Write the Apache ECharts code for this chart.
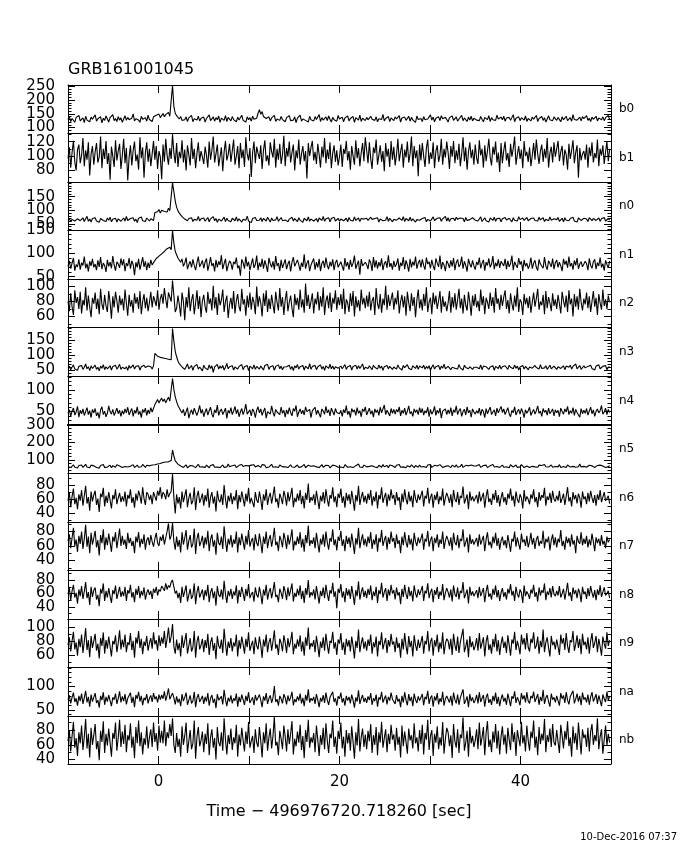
<!DOCTYPE html>
<html><head><meta charset="utf-8">
<script src="https://cdn.jsdelivr.net/npm/echarts@6/dist/echarts.min.js"></script>
<style>html,body{margin:0;padding:0;background:#fff}#c{width:680px;height:850px}</style>
</head><body><div id="c"></div>
<script>
const chartTitle = 'GRB161001045';
const xAxisTitle = 'Time \u2212 496976720.718260 [sec]';
const stamp = '10-Dec-2016 07:37';
const tStart = -10, binWidth = 0.15;
const xLabelValues = [0, 20, 40];
const detectors = ['b0','b1','n0','n1','n2','n3','n4','n5','n6','n7','n8','n9','na','nb'];
const yMin = [80, 64, 28, 45, 46, 30, 19, 25, 28, 27, 22, 43, 37, 34];
const yMax = [255, 132, 204, 150, 110, 193, 132, 300, 97, 93, 95, 111, 142, 99];
const yMajor = [[100,150,200,250],[80,100,120],[50,100,150],[50,100,150],[60,80,100],[50,100,150],[50,100],[100,200,300],[40,60,80],[40,60,80],[40,60,80],[60,80,100],[50,100],[40,60,80]];
const yMinorStep = [10, 10, 10, 10, 10, 10, 10, 20, 10, 10, 10, 10, 10, 10];

const b0 = [128,140,122,133,126,119,137,131,144,124,129,135,118,141,127,133,121,138,130,125,
146,123,132,128,139,117,134,126,142,131,120,136,129,147,125,133,122,140,127,135,
119,131,143,126,137,128,121,134,150,124,132,138,127,119,141,130,125,136,123,145,
129,134,122,139,138,145,140,149,136,143,151,139,147,142,155,141,148,254,176,152,
143,137,131,140,126,133,128,139,122,135,130,144,121,132,137,127,141,124,134,129,
138,120,133,127,146,125,131,139,123,136,128,142,119,134,130,126,143,122,137,131,
124,140,129,135,121,138,127,133,145,126,132,120,139,128,136,123,141,130,125,134,
152,165,148,158,140,146,133,128,139,124,135,130,144,122,131,137,126,140,129,134,
121,136,130,143,125,132,127,139,118,134,129,145,123,131,138,126,133,120,141,128,
135,124,140,129,133,147,122,136,127,131,139,125,142,130,120,137,128,134,123,144,
131,126,138,121,135,129,142,124,133,128,140,119,136,130,127,145,122,134,139,125,
137,128,123,141,130,134,126,139,121,132,136,129,148,124,133,127,140,122,135,131,
125,139,131,127,143,120,135,130,138,126,132,141,123,137,128,134,119,142,129,136,
133,122,140,128,135,131,124,146,127,138,121,134,130,139,125,143,132,126,137,129,
120,136,129,142,126,133,139,123,131,128,144,125,135,130,122,138,127,141,124,134,
139,127,132,125,140,130,121,137,134,129,143,122,136,128,133,126,145,131,124,138,
128,141,123,135,130,137,126,132,147,121,134,129,139,125,136,131,127,142,122,133,
135,124,138,130,127,144,122,133,129,140,126,136,120,131,143,128,134,125,139,132,
126,137,131,121,139,128,134,141,125,130,136,123,147,129,135,127,132,138,124,140,
132,129,143,126,134,122,138,130,127,141,124,135,131,128,139,125,136,130,144,128];
const b1 = [97,112,84,105,121,92,80,109,116,90,101,125,86,108,95,119,73,103,114,88,
106,118,91,99,127,83,110,96,121,89,104,67,113,100,85,122,94,107,117,82,
101,124,90,111,66,98,115,87,108,120,93,102,81,126,97,112,70,105,119,92,
110,86,103,121,95,114,82,107,99,68,116,92,124,101,88,111,96,131,104,90,
118,85,106,97,122,91,109,80,115,102,87,125,96,110,83,104,119,93,107,99,
89,113,101,84,120,95,108,127,91,103,116,86,99,112,79,106,121,94,102,117,
92,107,123,88,100,114,83,118,97,109,85,126,103,94,111,71,105,120,90,113,
104,96,115,82,108,122,93,101,87,119,106,98,124,84,110,95,117,89,102,128,
86,111,99,120,91,105,116,80,108,97,123,88,103,114,93,107,69,118,100,112,
121,94,106,89,117,102,84,113,98,125,90,109,96,119,83,104,115,92,108,87,
99,116,85,110,103,121,94,107,81,114,100,88,122,97,111,86,105,118,93,126,
108,90,119,96,82,112,104,123,88,101,115,92,107,79,118,99,110,85,121,95,
113,87,102,124,93,106,117,84,109,98,120,91,103,127,86,114,97,108,72,116,
94,118,100,85,111,123,89,105,96,119,83,107,115,92,101,124,88,110,98,120,
105,82,114,99,121,90,108,95,117,86,103,126,93,112,81,106,119,97,109,88,
116,97,89,122,101,110,84,115,93,107,124,98,87,113,102,120,91,105,78,118,
90,108,120,94,104,85,117,99,111,127,88,102,114,96,109,83,121,100,106,92,
112,86,101,118,95,123,103,89,107,116,92,110,97,125,84,104,113,91,119,99,
98,121,93,106,114,87,109,102,81,117,96,108,122,90,105,115,70,111,94,103,
107,95,116,84,112,100,119,91,104,97,123,86,110,101,115,89,106,120,93,109];
const n0 = [63,71,58,67,74,61,55,69,76,62,66,72,59,64,78,60,68,57,70,65,
73,61,66,56,70,77,63,68,59,72,64,75,58,67,62,71,57,69,74,60,
66,72,61,78,63,57,70,65,73,60,68,55,71,64,76,62,67,59,72,66,
61,69,74,63,92,98,95,103,90,100,106,96,101,94,108,99,93,202,168,134,
112,98,90,83,77,73,68,75,62,70,66,73,59,67,71,64,78,61,69,65,
72,60,67,74,58,69,64,77,62,70,56,68,73,61,66,75,59,71,63,68,
58,71,65,62,76,60,69,73,57,67,72,64,79,61,68,55,70,66,74,63,
69,64,73,59,71,66,61,75,68,57,72,63,70,65,77,60,67,74,62,69,
65,72,58,68,63,75,61,70,66,59,73,64,69,56,71,67,62,76,60,68,
74,61,67,70,57,72,65,63,78,60,69,66,73,58,70,64,75,61,67,71,
60,68,73,62,66,71,58,74,64,69,61,76,63,67,72,59,70,65,68,62,
71,63,59,75,67,61,70,66,73,57,68,74,62,69,64,77,60,71,65,58,
67,73,64,60,72,68,63,77,59,70,66,62,75,61,69,73,57,66,71,64,
62,70,66,74,58,67,72,61,68,76,63,59,71,65,73,60,69,64,78,61,
73,59,69,64,71,62,75,67,60,72,65,70,58,74,63,68,66,61,73,67,
64,71,61,68,76,59,66,73,62,69,57,72,67,63,75,60,70,65,71,58,
69,62,74,65,60,71,67,58,73,64,70,61,77,66,59,72,63,68,74,62,
58,70,66,72,63,69,61,75,65,68,73,59,67,71,62,76,64,60,69,72,
66,74,60,67,71,58,73,64,69,62,70,66,75,61,68,57,72,65,63,70,
71,64,68,59,73,66,62,70,76,63,67,72,60,69,65,74,61,68,70,64];
const n1 = [72,84,67,79,90,63,76,71,87,65,80,74,93,68,78,61,83,73,88,70,
77,64,85,71,92,66,79,74,60,86,72,81,68,94,75,63,82,77,69,89,
74,87,62,79,73,90,67,84,76,53,81,70,88,65,78,92,71,83,64,80,
69,86,75,80,84,89,86,94,91,99,96,104,101,110,106,113,108,149,122,104,
97,90,86,81,88,72,79,91,66,76,83,70,87,74,64,80,93,71,77,85,
68,81,89,63,76,92,73,79,61,86,70,83,75,96,66,78,88,62,74,84,
79,65,82,77,91,68,74,52,87,80,67,93,72,82,64,77,89,69,76,95,
64,80,71,88,67,85,74,60,90,78,70,83,65,94,73,79,62,86,69,78,
87,66,77,84,61,81,92,72,68,86,76,63,80,71,98,67,79,85,62,75,
73,89,65,81,70,88,62,78,84,69,91,74,66,82,72,87,64,80,86,70,
68,82,78,63,90,72,81,65,86,71,79,95,67,76,84,54,88,73,69,81,
76,66,87,80,62,92,70,85,67,81,72,89,64,78,83,69,96,71,79,65,
84,71,77,89,63,80,73,92,66,85,75,61,88,70,82,74,93,67,79,86,
70,87,74,65,91,77,82,68,86,73,64,89,79,71,95,66,81,75,62,84,
78,69,85,72,90,64,80,87,71,76,93,67,83,74,61,88,77,70,85,73,
65,82,75,91,68,79,86,63,81,74,89,70,77,94,66,80,72,87,69,83,
80,73,88,66,84,71,78,95,64,82,75,69,90,76,83,62,86,72,79,67,
74,91,67,79,85,70,63,87,77,81,68,92,73,65,84,78,71,89,66,80,
86,70,81,73,62,88,76,84,69,93,72,79,65,85,74,90,67,77,82,71,
71,83,78,64,89,74,68,82,87,66,80,73,91,70,78,63,85,76,69,84];
const n2 = [80,67,91,73,62,95,78,86,70,93,64,82,75,99,68,88,72,59,85,77,
92,70,84,63,97,76,69,89,74,66,94,79,57,87,72,93,81,65,88,75,
84,68,96,78,61,89,73,82,65,91,77,86,70,94,63,80,90,71,85,67,
79,93,72,87,81,74,95,69,84,90,77,98,83,71,92,86,80,108,88,66,
71,88,76,60,92,80,55,86,72,99,67,82,90,63,78,95,70,87,59,81,
89,73,65,93,77,84,68,101,71,86,62,91,75,82,96,66,80,88,58,76,
85,70,94,64,81,90,73,67,97,76,83,61,88,72,92,69,86,79,63,100,
73,87,78,60,91,74,95,66,84,70,89,76,64,93,79,68,98,73,86,62,
82,94,67,79,88,71,59,90,75,85,69,96,72,83,65,104,74,89,70,80,
91,64,84,76,93,68,87,73,99,62,81,88,71,92,66,85,77,95,69,86,
75,90,70,97,63,83,78,66,91,74,94,60,87,72,82,67,96,76,85,71,
88,73,93,68,81,86,62,98,77,70,90,65,84,75,101,69,89,74,83,92,
69,85,76,95,64,80,89,72,87,61,93,78,67,91,74,86,59,82,96,71,
83,68,90,74,99,66,79,85,63,92,76,88,70,81,94,65,87,73,80,67,
78,94,65,86,72,91,69,82,97,71,84,64,89,75,68,93,79,61,88,74,
90,72,81,67,96,75,87,63,85,79,70,92,74,86,65,98,77,84,69,89,
74,86,95,70,82,64,91,77,68,88,73,99,66,83,79,62,90,76,85,71,
87,65,79,92,73,84,97,69,80,75,89,63,94,71,86,78,67,91,74,83,
70,89,77,64,93,81,72,88,66,95,76,84,60,90,73,87,69,97,79,68,
84,76,92,71,87,66,80,94,73,85,62,90,78,69,96,74,83,70,88,79];
const n3 = [56,63,51,60,67,53,58,49,62,57,65,52,59,70,54,61,48,64,55,60,
66,52,59,47,63,56,68,51,61,54,58,64,50,62,57,66,53,60,69,52,
59,63,54,61,49,65,56,60,67,53,62,57,64,50,61,55,66,58,52,63,
57,61,53,64,105,101,96,99,92,97,90,95,88,93,86,91,84,188,146,112,
94,80,71,65,60,63,52,61,70,54,58,65,49,62,56,68,53,60,63,47,
66,57,62,51,67,55,64,42,60,58,69,53,63,56,65,50,59,72,54,61,
57,64,50,60,66,53,62,57,68,51,61,55,65,48,63,58,54,67,52,62,
59,53,63,57,50,65,59,69,52,61,55,64,49,62,58,67,54,63,51,60,
66,61,55,66,52,62,48,64,57,68,53,61,56,65,50,63,59,54,71,52,
62,58,65,51,61,56,67,53,62,49,64,59,55,69,54,63,52,61,66,56,
50,63,54,60,68,52,61,56,65,50,62,57,66,53,64,55,60,70,51,59,
57,55,64,58,51,66,59,62,53,67,56,63,49,61,57,65,54,62,68,52,
60,61,53,67,57,63,50,65,58,54,68,56,62,51,64,59,55,66,52,63,
58,57,66,52,62,55,64,49,60,67,53,61,58,65,51,63,56,69,54,60,
62,64,51,59,65,56,62,53,68,57,60,50,66,58,63,54,61,67,52,59,
56,59,62,54,67,51,63,57,61,65,52,60,56,64,49,62,58,55,66,53,
61,55,64,58,52,66,59,61,54,67,56,63,50,60,57,65,53,62,68,51,
60,63,56,50,65,58,62,53,68,55,61,57,64,52,59,66,54,60,63,57,
52,61,67,55,60,64,51,63,57,59,66,53,62,56,70,54,60,65,52,58,
64,57,53,62,59,66,55,61,50,63,58,67,54,60,62,56,65,51,59,61];
const n4 = [46,54,39,51,58,42,49,62,37,53,45,56,41,50,59,43,52,36,55,47,
57,40,48,34,54,61,43,51,38,46,63,50,44,55,41,49,58,45,53,39,
52,44,56,47,60,42,50,57,39,53,46,61,43,51,36,55,48,58,41,54,
45,59,49,53,66,72,78,70,76,81,73,79,70,77,83,74,71,126,101,84,
73,64,58,52,47,55,40,50,59,35,47,54,43,58,49,41,51,64,46,55,
38,49,57,42,52,60,44,37,54,47,65,41,51,56,43,50,58,34,53,46,
59,43,51,62,45,55,38,49,57,43,52,67,44,48,54,40,56,50,36,53,
61,47,56,41,51,58,35,50,54,44,63,48,39,55,49,52,43,60,46,53,
37,54,44,59,48,40,57,51,64,38,49,56,45,53,42,61,50,46,55,36,
52,48,60,43,53,49,37,56,51,44,62,47,54,40,58,50,42,57,48,52,
45,53,39,55,47,64,43,51,36,57,49,54,41,59,46,52,38,56,50,61,
42,50,58,44,52,37,56,48,54,41,60,47,51,65,43,53,49,40,57,46,
55,44,55,49,61,40,53,46,58,42,51,63,45,50,39,56,48,54,43,59,
47,57,42,52,47,60,38,55,44,50,62,41,53,46,58,35,51,49,56,43,
54,45,59,40,54,48,63,43,52,57,39,50,55,42,61,47,53,37,56,49,
44,52,46,58,41,55,50,36,57,45,53,60,43,49,54,40,58,47,51,62,
48,56,43,51,59,45,38,53,47,61,42,50,55,44,57,49,36,54,46,52,
60,41,49,55,44,52,63,46,51,39,57,48,53,42,58,45,50,56,40,54,
47,53,38,58,50,44,56,49,62,43,52,46,59,41,55,48,51,37,57,45,
53,46,57,42,51,60,45,54,39,50,56,47,52,64,44,49,58,43,55,48];
const n5 = [61,69,56,66,72,58,64,54,68,61,71,57,65,75,59,67,55,70,60,66,
73,57,63,53,68,60,74,56,66,59,64,70,55,67,62,58,72,61,65,69,
57,66,62,71,59,68,64,60,73,56,65,70,58,67,61,74,63,57,69,62,
66,60,71,64,72,75,77,80,79,83,85,84,88,90,89,93,96,157,121,94,
84,76,70,65,68,57,65,72,54,63,68,58,66,71,56,62,75,59,67,60,
65,57,70,60,55,68,61,73,58,66,59,69,56,64,71,57,67,60,76,61,
58,67,61,71,56,65,69,59,74,62,57,68,60,66,55,70,61,72,59,65,
68,60,57,73,62,70,55,66,59,67,75,58,65,61,69,56,71,62,60,67,
61,69,56,65,72,59,67,58,64,71,57,68,60,66,74,55,63,70,59,64,
57,66,71,60,67,56,64,73,58,65,69,59,68,54,63,70,60,67,72,58,
66,59,68,55,73,62,58,69,61,71,56,65,67,60,76,59,64,57,70,61,
60,70,63,57,67,72,59,66,56,69,62,58,73,61,65,68,55,71,60,66,
64,57,69,61,74,58,66,60,70,55,67,63,59,72,62,56,68,65,58,71,
59,68,62,66,56,71,61,74,57,64,69,60,65,58,73,62,57,67,63,70,
67,61,56,70,63,59,72,58,66,62,75,57,64,69,60,66,58,71,61,65,
62,66,59,73,57,64,68,61,70,56,63,67,60,74,59,65,62,69,57,64,
70,58,65,61,68,55,72,63,59,66,71,57,64,60,73,62,56,67,65,69,
56,67,63,72,60,65,58,70,62,68,57,74,61,66,59,63,71,58,68,62,
65,60,73,57,66,62,69,56,71,64,59,67,63,72,58,65,61,76,60,66,
63,71,58,64,69,61,66,73,57,62,68,60,70,59,65,63,57,68,62,67];
const n6 = [58,69,49,64,75,53,62,46,67,58,73,51,65,79,54,63,44,71,57,66,
72,52,61,42,68,63,76,50,65,55,70,59,47,66,60,74,53,62,69,56,
64,57,71,50,66,61,74,55,63,48,68,58,72,65,54,77,61,52,70,67,
59,66,53,70,64,58,72,65,77,61,70,67,60,74,63,68,71,96,62,40,
67,54,63,47,71,56,65,74,49,62,69,53,58,77,45,64,72,55,61,68,
51,66,57,75,48,63,70,54,64,43,72,59,56,67,52,80,60,47,65,57,
69,53,64,58,73,46,66,56,71,61,50,68,57,76,54,62,63,49,70,59,
55,71,60,45,67,58,74,52,63,69,54,65,78,56,61,48,68,62,53,72,
64,51,70,57,66,76,49,62,56,68,58,73,53,65,47,69,59,82,55,63,
58,67,52,72,59,46,65,57,70,54,74,60,50,66,61,77,56,64,49,68,
62,75,55,64,48,69,58,67,53,72,59,44,66,57,79,52,63,70,56,65,
54,68,59,73,51,64,57,71,47,66,60,77,55,63,69,50,67,58,74,61,
66,52,70,58,63,45,68,56,74,60,53,71,57,65,49,73,61,55,67,59,
57,72,50,65,61,76,54,63,68,48,66,59,71,53,64,58,75,51,62,69,
63,55,67,49,73,60,56,70,52,65,62,78,54,60,67,46,71,58,64,57,
59,66,54,71,57,63,69,48,64,74,56,61,52,68,59,73,55,66,50,62,
70,56,63,52,68,61,75,58,65,50,71,60,55,67,62,47,73,57,64,60,
53,67,61,74,56,63,49,70,58,66,62,76,51,64,59,69,55,72,60,57,
65,58,72,55,61,68,52,64,77,57,63,50,70,60,66,54,68,62,48,71,
60,64,53,69,57,72,62,55,66,51,67,59,73,56,63,70,58,61,65,54];
const n7 = [67,76,57,71,85,60,69,52,74,63,80,56,70,89,59,73,50,78,62,71,
81,58,68,47,75,64,83,55,72,61,77,65,52,73,66,79,57,70,84,60,
74,62,69,56,78,64,71,60,67,50,73,65,79,58,70,63,76,55,68,72,
61,75,66,59,70,78,64,60,73,67,76,62,71,80,91,69,74,92,66,55,
73,59,68,51,79,62,71,82,55,67,75,58,63,84,49,70,78,60,66,74,
57,72,62,81,53,69,76,59,68,48,78,64,61,73,56,87,67,52,70,62,
75,58,69,63,80,51,72,61,77,66,55,74,62,82,59,67,71,54,76,64,
60,77,65,50,73,63,80,57,69,75,59,70,85,61,66,53,74,68,58,78,
69,56,75,62,71,83,54,67,61,73,63,79,58,70,52,75,64,88,60,68,
63,72,57,78,64,51,70,62,76,59,80,65,55,71,66,83,61,69,54,73,
67,81,60,69,53,74,63,72,58,77,64,49,71,62,85,57,68,76,61,70,
59,73,64,79,56,69,62,76,52,71,65,82,60,68,74,55,72,63,80,66,
71,57,76,63,68,50,73,61,79,65,58,75,62,70,54,78,66,60,72,64,
62,77,55,70,66,81,59,68,73,53,71,64,76,58,69,63,80,56,67,74,
68,60,72,54,78,65,61,75,57,70,67,83,59,65,72,51,76,63,69,62,
64,71,59,76,62,68,74,53,69,79,61,66,57,73,64,78,60,71,55,67,
73,61,68,57,75,64,52,70,66,80,59,72,63,55,77,65,69,60,74,58,
66,78,62,71,56,69,74,60,67,63,81,57,70,65,73,54,68,76,61,72,
58,70,65,82,60,67,55,73,64,71,59,76,62,68,50,74,66,63,79,61,
70,63,74,58,69,61,77,66,53,72,64,70,60,75,62,67,57,73,65,69];
const n8 = [59,68,50,64,73,54,61,45,66,56,71,52,63,77,53,62,43,70,55,65,
69,51,58,41,67,60,75,49,64,54,68,56,46,65,59,72,52,61,70,55,
63,56,70,49,65,60,73,54,62,47,67,58,71,53,64,57,69,51,61,66,
58,64,52,67,61,70,57,66,63,71,68,64,75,66,72,69,77,80,70,60,
64,53,61,46,70,55,63,72,48,58,67,52,57,75,44,62,71,54,60,66,
50,65,56,73,47,62,68,53,63,42,71,58,55,66,51,79,59,46,64,56,
67,52,63,57,72,45,65,55,70,60,49,67,56,74,53,59,62,48,69,58,
54,70,59,44,66,57,73,51,62,68,53,64,77,55,58,47,67,61,52,71,
63,50,69,56,65,75,48,61,55,67,57,72,52,64,46,68,58,80,54,62,
57,66,51,71,58,45,64,56,69,53,73,59,49,65,60,76,55,63,38,67,
61,74,54,63,47,68,57,66,52,71,58,43,65,56,78,51,62,69,55,64,
53,67,58,72,50,63,56,70,46,65,59,76,54,62,68,49,66,57,73,60,
65,51,69,57,62,44,67,55,73,59,52,70,56,64,48,72,60,54,66,58,
56,71,49,64,60,75,53,62,67,47,65,58,70,52,63,57,74,50,61,68,
62,54,66,48,72,59,55,69,51,64,61,77,53,59,66,45,70,57,63,56,
58,65,53,70,56,62,68,47,63,73,55,60,51,67,58,72,54,65,49,61,
68,55,62,51,67,60,74,57,64,49,70,59,54,66,61,46,72,56,63,59,
52,66,60,73,55,62,48,69,57,65,61,75,50,63,58,68,54,71,59,56,
64,57,71,54,60,67,51,63,76,56,62,49,69,59,65,53,67,61,47,70,
59,63,52,68,56,71,61,54,65,50,66,58,72,55,62,69,57,60,64,53];
const n9 = [74,85,65,80,93,68,78,59,83,71,89,63,79,98,67,81,57,87,70,80,
90,66,76,55,84,73,92,62,81,69,86,72,58,80,75,88,64,77,95,68,
82,71,89,64,78,74,91,67,80,56,85,76,94,70,83,61,79,73,87,66,
77,84,69,92,75,81,66,88,73,85,76,94,70,83,99,77,86,104,72,62,
82,67,77,58,88,70,80,91,62,73,84,65,71,94,56,79,87,68,74,83,
64,81,70,90,60,78,85,66,77,54,87,73,69,82,63,97,76,59,79,70,
84,65,78,72,89,58,81,69,86,75,62,83,71,92,66,74,80,61,85,73,
68,86,74,56,82,72,89,64,78,84,66,79,95,69,75,60,83,77,65,88,
78,63,84,71,80,93,61,76,69,82,72,88,65,79,59,85,73,99,68,77,
72,81,64,87,73,57,79,70,85,66,90,74,62,80,77,93,69,78,60,82,
76,91,67,78,60,83,72,81,65,86,73,55,80,70,96,64,77,85,69,79,
66,82,73,89,62,78,71,86,58,80,74,92,68,77,84,63,81,72,90,75,
79,64,85,70,77,56,83,68,91,73,61,87,71,80,58,88,74,66,82,70,
71,87,62,80,75,94,65,79,84,59,81,72,89,64,78,69,92,61,76,83,
80,68,83,60,90,74,66,86,63,78,76,97,64,72,82,57,87,71,79,67,
73,84,66,91,69,77,85,58,79,88,67,75,62,83,71,90,65,81,60,76,
86,70,79,63,88,74,59,82,76,93,67,80,72,61,89,75,84,68,91,71,
65,83,77,92,69,73,86,62,80,71,96,64,78,85,70,58,87,74,79,68,
82,72,60,89,76,84,67,91,73,63,81,78,94,66,75,88,70,83,61,90,
74,79,68,85,62,80,91,70,77,87,64,83,72,59,86,76,69,92,73,81];
const na = [72,81,64,77,87,67,75,59,80,69,85,63,76,91,66,78,57,83,68,77,
86,65,71,55,80,71,88,61,78,68,82,70,58,77,72,85,63,74,90,66,
79,69,84,62,75,72,87,65,78,56,82,74,89,68,80,60,76,71,84,64,
75,81,67,86,73,79,66,83,72,82,74,90,70,81,96,73,80,86,76,62,
79,66,74,58,84,69,77,87,61,71,81,64,69,89,56,76,84,67,70,80,
63,78,68,86,59,75,82,65,74,54,84,71,67,79,62,93,72,58,76,68,
81,64,75,70,85,57,78,67,83,72,61,80,69,88,65,71,77,60,82,70,
66,83,71,56,79,70,86,63,75,81,65,76,101,67,73,59,80,74,64,84,
76,62,81,69,77,89,60,73,67,79,70,85,64,76,58,82,70,94,66,75,
70,78,63,84,71,56,76,68,82,65,87,71,61,77,73,89,67,75,59,79,
74,87,66,75,59,80,70,78,64,83,71,55,77,68,92,63,74,82,67,76,
65,79,71,86,61,75,69,83,57,77,72,89,66,74,81,62,78,70,87,73,
77,63,82,68,74,56,80,66,88,71,60,84,69,78,58,85,72,65,79,70,
69,84,60,78,73,91,63,76,81,57,79,70,86,62,75,67,89,59,74,80,
78,66,80,59,87,72,64,83,61,76,74,94,63,70,79,56,84,69,77,65,
71,82,64,88,67,75,82,57,77,85,65,73,61,80,69,87,63,78,58,74,
83,68,76,61,85,72,58,79,74,90,65,77,70,60,86,73,81,66,88,69,
64,80,75,89,67,71,84,61,78,69,93,63,76,82,68,57,85,72,77,66,
80,70,59,86,74,81,65,88,71,62,79,76,91,64,73,85,68,80,60,87,
72,77,66,83,61,78,88,68,75,84,63,81,70,58,83,74,67,89,71,79];
const nb = [65,80,51,72,91,56,69,45,77,62,86,53,71,95,55,75,43,83,60,73,
88,54,65,39,79,64,92,49,75,59,82,63,44,76,68,90,52,70,94,57,
78,61,87,50,73,66,89,56,71,42,84,62,93,58,77,47,69,60,85,55,
70,81,57,90,64,76,52,86,63,79,62,93,58,77,69,88,72,96,60,49,
76,57,68,44,85,60,72,90,49,65,80,54,62,93,41,71,84,58,66,78,
50,75,61,89,46,70,81,56,69,40,84,63,58,77,52,96,67,47,73,61,
82,53,70,62,87,44,74,59,83,66,51,78,61,91,56,65,72,49,81,63,
57,84,65,43,77,62,89,52,70,82,55,72,98,59,64,46,79,68,54,86,
71,51,81,61,75,92,47,68,58,78,63,87,53,72,42,80,64,94,56,70,
63,76,50,86,67,45,73,60,83,54,89,66,49,75,69,93,57,71,48,79,
68,90,55,71,44,80,62,76,52,85,64,41,77,59,95,51,70,82,57,74,
54,79,65,88,49,73,60,84,46,77,63,91,56,69,81,50,75,61,87,67,
74,52,83,60,71,43,86,58,78,64,48,82,66,73,55,89,62,70,51,80,
61,87,47,76,67,94,53,72,80,45,75,63,85,54,70,59,91,48,68,83,
77,58,73,42,88,65,56,81,49,74,69,97,52,63,79,44,84,62,72,57,
66,81,54,90,59,70,84,46,76,92,57,67,50,78,63,88,55,79,47,71,
85,60,74,48,83,67,53,89,64,77,45,80,69,58,91,62,73,51,86,66,
52,78,69,93,56,71,46,84,61,75,66,95,50,73,64,82,57,88,63,59,
80,64,49,87,72,55,79,67,92,58,70,44,85,62,76,53,90,68,47,81,
69,74,57,83,51,78,88,60,73,65,96,54,71,81,48,67,86,59,75,63];

const seriesValues = [b0, b1, n0, n1, n2, n3, n4, n5, n6, n7, n8, n9, na, nb];

const FONT = 'DejaVu Sans';
const panelTops = [85,133,182,230,279,327,376,425,473,522,570,619,667,716,764];
const plotLeft = 68, plotRight = 611;

const grids = [], xAxes = [], yAxes = [], series = [], graphics = [];
detectors.forEach((name, k) => {
  const top = panelTops[k], h = panelTops[k+1] - panelTops[k];
  grids.push({left: plotLeft, top: top, width: plotRight - plotLeft, height: h, show: false});
  const last = k === detectors.length - 1;
  const xBase = {
    gridIndex: k, type: 'value', min: -10, max: 50, interval: 10,
    splitLine: {show: false},
    axisTick: {show: true, inside: true, length: 8, lineStyle: {color: '#000', width: 1}}
  };
  xAxes.push(Object.assign({}, xBase, {
    position: 'bottom',
    axisLine: {show: true, onZero: false, lineStyle: {color: '#000', width: (k === 6) ? 2 : 1}},
    axisLabel: {show: last, customValues: xLabelValues, color: '#000', fontSize: 15, fontFamily: FONT, margin: 11, hideOverlap: false}
  }));
  xAxes.push(Object.assign({}, xBase, {
    position: 'top',
    axisLine: {show: true, onZero: false, lineStyle: {color: '#000', width: (k === 7) ? 2 : 1}},
    axisLabel: {show: false}
  }));
  const majors = yMajor[k];
  const minors = [];
  const st = yMinorStep[k];
  for (let v = Math.ceil(yMin[k] / st) * st; v <= yMax[k]; v += st) {
    if (majors.indexOf(v) < 0) minors.push(v);
  }
  const yBase = {gridIndex: k, type: 'value', min: yMin[k], max: yMax[k], splitLine: {show: false}, axisLabel: {show: false}};
  ['left', 'right'].forEach(side => {
    yAxes.push(Object.assign({}, yBase, {
      position: side,
      axisLine: {show: true, onZero: false, lineStyle: {color: '#000', width: 1}},
      axisTick: {show: true, inside: true, length: 7, customValues: majors, lineStyle: {color: '#000'}}
    }));
    yAxes.push(Object.assign({}, yBase, {
      position: side,
      axisLine: {show: false, onZero: false},
      axisTick: {show: true, inside: true, length: 3.5, customValues: minors, lineStyle: {color: '#000'}}
    }));
  });
  series.push({
    type: 'line', xAxisIndex: 2 * k, yAxisIndex: 4 * k,
    data: seriesValues[k].map((v, i) => [tStart + i * binWidth, v]),
    symbol: 'none', showSymbol: false, sampling: null, clip: true, silent: true,
    lineStyle: {color: '#000', width: 1.1}
  });
  graphics.push({type: 'text', style: {x: 619, y: top + h / 2, text: name, fill: '#000',
    font: '12px "' + FONT + '"', textVerticalAlign: 'middle', verticalAlign: 'middle'}});
});

graphics.push({type: 'text', style: {x: 68, y: 70, text: chartTitle, fill: '#000',
  font: '16px "' + FONT + '"', textVerticalAlign: 'middle', verticalAlign: 'middle'}});
graphics.push({type: 'text', style: {x: 339, y: 812, text: xAxisTitle, fill: '#000',
  font: '16px "' + FONT + '"', textAlign: 'center', align: 'center', textVerticalAlign: 'middle', verticalAlign: 'middle'}});
graphics.push({type: 'text', style: {x: 677, y: 837, text: stamp, fill: '#000',
  font: '10px "' + FONT + '"', textAlign: 'right', align: 'right', textVerticalAlign: 'middle', verticalAlign: 'middle'}});

const chart = echarts.init(document.getElementById('c'), null, {renderer: 'canvas'});
chart.setOption({
  animation: false,
  backgroundColor: '#fff',
  grid: grids, xAxis: xAxes, yAxis: yAxes, series: series, graphic: graphics
});

// y tick labels: positioned through each panel's own y scale
const tickLabels = [];
detectors.forEach((name, k) => {
  yMajor[k].forEach(v => {
    const py = chart.convertToPixel({yAxisIndex: 4 * k}, v);
    tickLabels.push({type: 'text', silent: true, style: {x: plotLeft - 13, y: py, text: String(v), fill: '#000',
      font: '15px "' + FONT + '"', textAlign: 'right', align: 'right', textVerticalAlign: 'middle', verticalAlign: 'middle'}});
  });
});
chart.setOption({graphic: graphics.concat(tickLabels)});
</script></body></html>
